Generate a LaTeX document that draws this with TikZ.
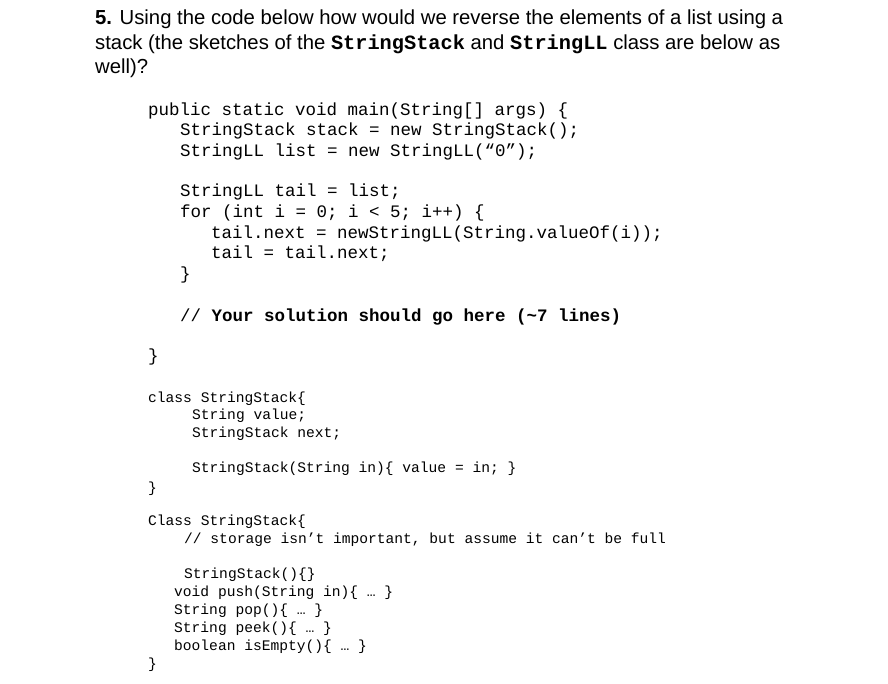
\documentclass[tikz,border=0pt]{standalone}
\usepackage{fontspec}
\setmainfont{Liberation Sans}
\setmonofont{Liberation Mono}
\begin{document}
\begin{tikzpicture}[x=1pt,y=-1pt,
  hd/.style={anchor=base west,inner sep=0,font=\fontsize{20.3}{24}\selectfont},
  cd/.style={anchor=base west,inner sep=0,font=\fontsize{17.5}{20}\ttfamily},
  cs/.style={anchor=base west,inner sep=0,font=\fontsize{14.6}{17}\ttfamily}]
\useasboundingbox (0,0) rectangle (888,684);
\node[hd] (h1) at (95,25) {\textbf{5.} Using the code below how would we reverse the elements of a list using a};
\node[hd] (h2) at (95,50) {stack (the sketches of the \texttt{\textbf{StringStack}} and \texttt{\textbf{StringLL}} class are below as};
\node[hd] (h3) at (95,74) {well)?};
\node[cd] (c1) at (148,116) {public static void main(String[] args) \{};
\node[cd] (c2) at (180,136) {StringStack stack = new StringStack();};
\node[cd] (c3) at (180,157) {StringLL list = new StringLL(“0”);};
\node[cd] (c4) at (180,197) {StringLL tail = list;};
\node[cd] (c5) at (180,218) {for (int i = 0; i < 5; i++) \{};
\node[cd] (c6) at (211,239) {tail.next = newStringLL(String.valueOf(i));};
\node[cd] (c7) at (211,259) {tail = tail.next;};
\node[cd] (c8) at (180,280) {\}};
\node[cd] (c9) at (180,321) {// \textbf{Your solution should go here (\textasciitilde7 lines)}};
\node[cd] (c10) at (148,361) {\}};
\node[cs] (s1) at (148,402) {class StringStack\{};
\node[cs] (s2) at (192,419) {String value;};
\node[cs] (s3) at (192,437) {StringStack next;};
\node[cs] (s4) at (192,472) {StringStack(String in)\{ value = in; \}};
\node[cs] (s5) at (148,492) {\}};
\node[cs] (s6) at (148,525) {Class StringStack\{};
\node[cs] (s7) at (184,543) {// storage isn’t important, but assume it can’t be full};
\node[cs] (s8) at (184,578) {StringStack()\{\}};
\node[cs] (s9) at (174,596) {void push(String in)\{ … \}};
\node[cs] (s10) at (174,614) {String pop()\{ … \}};
\node[cs] (s11) at (174,632) {String peek()\{ … \}};
\node[cs] (s12) at (174,650) {boolean isEmpty()\{ … \}};
\node[cs] (s13) at (148,668) {\}};
\end{tikzpicture}
\end{document}
